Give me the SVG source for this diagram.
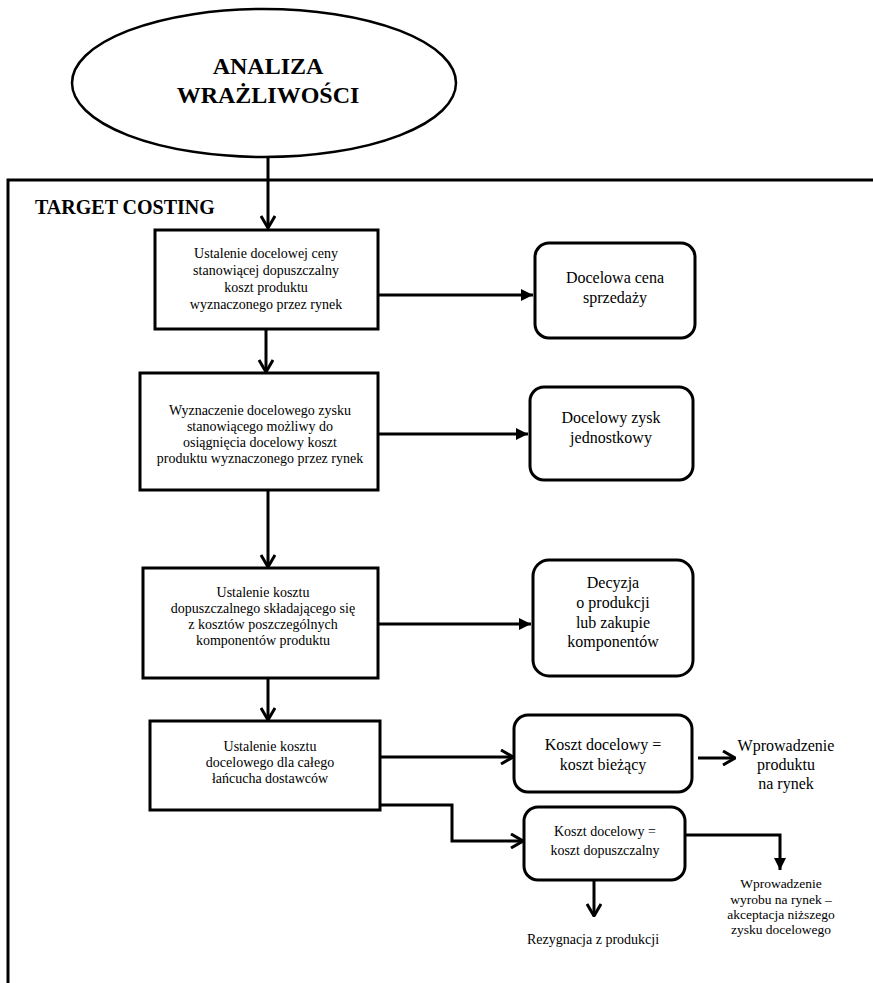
<svg xmlns="http://www.w3.org/2000/svg" width="873" height="983" viewBox="0 0 873 983">
<style>
.bg{fill:#fff}
.box{fill:#fff;stroke:#000;stroke-width:3}
.rbox{fill:#fff;stroke:#000;stroke-width:3}
.ln{fill:none;stroke:#000;stroke-width:3}
text{font-family:'Liberation Serif','Times New Roman',serif;fill:#000}
.t{text-anchor:middle}
.s14{font-size:14px}
.s16{font-size:16px}
.s13{font-size:13.5px}
.title{font-weight:bold}
</style>
<defs>
<marker id="open" viewBox="0 0 14 16" refX="13" refY="8" markerWidth="14" markerHeight="16" markerUnits="userSpaceOnUse" orient="auto">
<path d="M1,1 L13,8 L1,15" fill="none" stroke="#000" stroke-width="3"/>
</marker>
<marker id="fill" viewBox="0 0 12 12" refX="12" refY="6" markerWidth="12" markerHeight="12" markerUnits="userSpaceOnUse" orient="auto">
<path d="M0,0 L12,6 L0,12 Z" fill="#000"/>
</marker>
</defs>
<rect class="bg" x="0" y="0" width="873" height="983"/>
<g id="frame">
<path class="ln" d="M8,983 V180 H873"/>
<text class="title" x="35" y="214" font-size="20">TARGET COSTING</text>
</g>
<g id="ellipse">
<ellipse cx="264" cy="83" rx="192" ry="74" fill="#fff" stroke="#000" stroke-width="2.5"/>
<text class="t title" x="268" y="74" font-size="24">ANALIZA</text>
<text class="t title" x="268" y="103" font-size="24">WRAŻLIWOŚCI</text>
</g>
<g id="connectors">
<path class="ln" d="M268,158 V228" marker-end="url(#open)"/>
<path class="ln" d="M378,295 H533" marker-end="url(#fill)"/>
<path class="ln" d="M266,329 V372" marker-end="url(#open)"/>
<path class="ln" d="M378,434 H528" marker-end="url(#fill)"/>
<path class="ln" d="M268,490 V567" marker-end="url(#open)"/>
<path class="ln" d="M378,624 H531" marker-end="url(#fill)"/>
<path class="ln" d="M268,678 V720" marker-end="url(#open)"/>
<path class="ln" d="M380,757 H513" marker-end="url(#open)"/>
<path class="ln" d="M698,758 H735" marker-end="url(#open)"/>
<path class="ln" d="M380,805 H452 V841 H523" marker-end="url(#open)"/>
<path class="ln" d="M685,835 H780 V870" marker-end="url(#fill)"/>
<path class="ln" d="M594,880 V916" marker-end="url(#open)"/>
</g>
<g id="box1">
<rect class="box" x="155" y="230" width="223" height="99"/>
<text class="t s14" x="266" y="258">Ustalenie docelowej ceny</text>
<text class="t s14" x="266" y="275">stanowiącej dopuszczalny</text>
<text class="t s14" x="266" y="292">koszt produktu</text>
<text class="t s14" x="266" y="309">wyznaczonego przez rynek</text>
</g>
<g id="rbox1">
<rect class="rbox" x="535" y="243" width="160" height="95" rx="14"/>
<text class="t s16" x="615" y="283">Docelowa cena</text>
<text class="t s16" x="615" y="303">sprzedaży</text>
</g>
<g id="box2">
<rect class="box" x="140" y="373" width="238" height="117"/>
<text class="t s14" x="260" y="415">Wyznaczenie docelowego zysku</text>
<text class="t s14" x="260" y="431">stanowiącego możliwy do</text>
<text class="t s14" x="260" y="447">osiągnięcia docelowy koszt</text>
<text class="t s14" x="260" y="463">produktu wyznaczonego przez rynek</text>
</g>
<g id="rbox2">
<rect class="rbox" x="530" y="387" width="163" height="93" rx="14"/>
<text class="t s16" x="611" y="423">Docelowy zysk</text>
<text class="t s16" x="611" y="443">jednostkowy</text>
</g>
<g id="box3">
<rect class="box" x="143" y="568" width="235" height="110"/>
<text class="t s14" x="263" y="597">Ustalenie kosztu</text>
<text class="t s14" x="263" y="613">dopuszczalnego składającego się</text>
<text class="t s14" x="263" y="629">z kosztów poszczególnych</text>
<text class="t s14" x="263" y="645">komponentów produktu</text>
</g>
<g id="rbox3">
<rect class="rbox" x="533" y="560" width="160" height="116" rx="16"/>
<text class="t s16" x="613" y="588">Decyzja</text>
<text class="t s16" x="613" y="608">o produkcji</text>
<text class="t s16" x="613" y="628">lub zakupie</text>
<text class="t s16" x="613" y="647">komponentów</text>
</g>
<g id="box4">
<rect class="box" x="150" y="721" width="230" height="89"/>
<text class="t s14" x="270" y="751">Ustalenie kosztu</text>
<text class="t s14" x="270" y="767">docelowego dla całego</text>
<text class="t s14" x="270" y="783">łańcucha dostawców</text>
</g>
<g id="rbox4">
<rect class="rbox" x="514" y="715" width="178" height="77" rx="14"/>
<text class="t s16" x="603" y="750">Koszt docelowy =</text>
<text class="t s16" x="603" y="770">koszt bieżący</text>
</g>
<g id="out1">
<text class="t s16" x="786" y="751">Wprowadzenie</text>
<text class="t s16" x="786" y="770">produktu</text>
<text class="t s16" x="786" y="789">na rynek</text>
</g>
<g id="rbox5">
<rect class="rbox" x="524" y="807" width="161" height="73" rx="14"/>
<text class="t s14" x="605" y="836">Koszt docelowy =</text>
<text class="t s14" x="605" y="855">koszt dopuszczalny</text>
</g>
<g id="out2">
<text class="t s13" x="781" y="888">Wprowadzenie</text>
<text class="t s13" x="781" y="904">wyrobu na rynek –</text>
<text class="t s13" x="781" y="919">akceptacja niższego</text>
<text class="t s13" x="781" y="934">zysku docelowego</text>
</g>
<g id="out3">
<text class="t s14" x="593" y="944">Rezygnacja z produkcji</text>
</g>
</svg>
